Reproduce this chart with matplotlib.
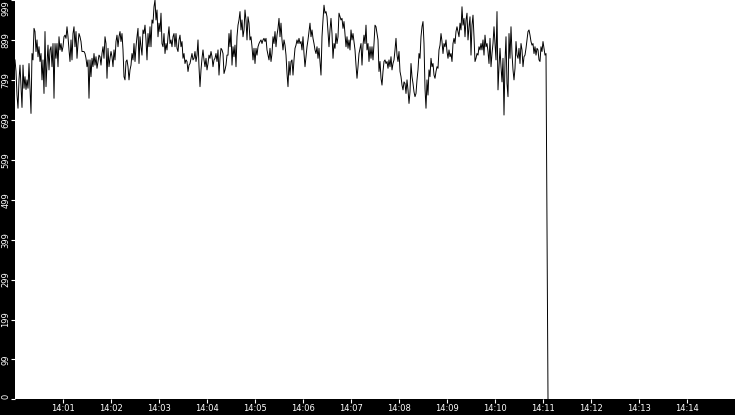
import matplotlib
matplotlib.use("Agg")
import matplotlib.pyplot as plt
import matplotlib.dates as mdates
import pandas as pd

# Values (one sample every 1.25 s starting 14:00:00)
seg1 = [849, 820, 761, 728, 799, 836, 782, 730, 836, 778,
        807, 775, 799, 778, 840, 774, 715, 865, 849, 928,
        920, 870, 899, 857, 882, 845, 865, 799, 849, 765,
        920, 782, 840, 886, 824, 874, 882, 832, 890, 753,
        890, 853, 890, 832, 907, 874, 890, 870, 882, 907,
        911, 903, 932, 907, 874, 845, 899, 849, 915, 932,
        882, 920, 853, 890, 915, 907, 895, 870, 870, 870,
        865, 853, 832, 849, 753, 849, 807, 853, 832, 865,
        836, 857, 828, 845, 861, 857, 836, 865, 882, 853,
        907, 890, 803, 878, 832, 853, 870, 857, 832, 874,
        849, 895, 911, 882, 907, 920, 895, 915, 874, 807,
        799, 845, 849, 832, 799, 824, 836, 865, 849, 890,
        845, 882, 907, 928, 840, 907, 882, 861, 924, 915,
        936, 899, 849]
seg2 = [915, 882, 932, 882, 949, 941, 982, 999, 949, 974,
        907, 941, 920, 966, 890, 882, 915, 865, 890, 874,
        907, 932, 890, 899, 882, 907, 915, 882, 915, 878,
        870, 899, 911, 882, 895, 853, 865, 840, 849, 845,
        820, 836, 840, 853, 865, 849, 853, 870, 845, 861,
        899, 832, 782, 824, 853, 874, 849, 832, 853, 824,
        840, 861, 853, 870, 857, 832, 849, 853, 865, 845,
        874, 811, 853, 878, 874, 865, 815, 824, 836, 861,
        861, 915, 882, 924, 836, 882, 857, 886, 832, 907,
        936, 949, 970, 924, 949, 907, 924, 974, 949, 899,
        957, 941, 899, 907, 882, 849, 878, 840, 878, 861,
        882, 890, 895, 899, 890, 899, 903, 895, 903, 874,
        861, 849, 878, 845, 865, 907, 890, 920, 882, 911,
        928, 953, 907, 941, 899, 874, 899]
seg3 = [886, 861, 815, 782, 845, 811, 845, 849, 811, 849,
        878, 886, 899, 890, 903, 890, 895, 874, 907, 865,
        832, 857, 882, 899, 920, 941, 907, 924, 903, 890,
        874, 865, 882, 853, 878, 845, 811, 907, 949, 986,
        966, 970, 957, 920, 882, 924, 953, 915, 853, 890,
        878, 915, 890, 907, 966, 957, 949, 953, 928, 945,
        915, 882, 907, 878, 899, 874, 924, 899, 915, 895,
        874, 836, 803, 832, 865, 878, 890, 836, 886, 911,
        890, 936, 874, 890, 845, 882, 853, 882, 849, 890,
        936, 932, 915, 899, 820, 845, 803, 786, 820, 845,
        849, 840, 845, 828, 849, 832, 857, 824, 840, 849,
        874, 903, 861, 845, 870, 820, 807, 786, 774, 794,
        790, 765, 799, 774, 740, 769, 840, 807, 790, 769,
        757, 765, 799, 824]
seg4 = [865, 853, 907, 932, 945, 890, 778, 728, 799, 761,
        824, 807, 853, 832, 840, 811, 803, 820, 832, 828,
        874, 886, 915, 895, 865, 890, 882, 899, 870, 853,
        874, 857, 865, 845, 890, 903, 890, 920, 932, 920,
        907, 941, 924, 982, 936, 953, 907, 949, 966, 899,
        932, 957, 861, 936, 961, 907, 845, 853, 865, 861,
        882, 874, 890, 874, 899, 861, 911, 882, 890, 870,
        840, 903, 832, 865, 890, 932, 890, 849, 970, 774,
        832, 878, 832, 794, 853, 711, 845, 907, 790, 757,
        915, 853, 932, 865, 824, 799, 828, 895, 861, 853,
        878, 840, 890, 874, 832, 857, 861, 878, 899, 920,
        924, 911, 895, 886, 890, 865, 882, 861, 878, 874,
        849, 845, 882, 870, 895, 878, 861, 865]
tail = [432, 0]

values = seg1 + seg2 + seg3 + seg4 + tail
start_time = "2024-01-01 14:00:00"
end_time = "2024-01-01 14:15:00"
sample_period = "1250ms"
y_ticks = [0, 99, 199, 299, 399, 499, 599, 699, 799, 899, 999]

times = pd.date_range(start_time, periods=len(values), freq=sample_period)

plt.rcParams['font.family'] = ['DejaVu Sans']
fig = plt.figure(figsize=(7.35, 4.15), dpi=100, facecolor='black')
ax = fig.add_axes([15/735, 16/415, 720/735, 399/415])
ax.set_facecolor('white')
ax.plot(times, values, color='black', linewidth=0.7)

ax.set_xlim(pd.Timestamp(start_time), pd.Timestamp(end_time))
ax.set_ylim(0, 999)
ax.set_yticks(y_ticks)
ax.set_yticklabels([str(v) for v in y_ticks], rotation=90, va='center')
ax.get_yticklabels()[-1].set_va('top')
ax.get_yticklabels()[0].set_va('bottom')
ax.xaxis.set_major_locator(mdates.MinuteLocator(byminute=range(1, 15)))
ax.xaxis.set_major_formatter(mdates.DateFormatter('%H:%M'))

for s in ax.spines.values():
    s.set_visible(False)
ax.tick_params(axis='both', colors='white', labelcolor='white', length=3,
               width=0.8, direction='out', labelsize=6, pad=0.4)

fig.savefig('out.png', dpi=100, facecolor='black')
